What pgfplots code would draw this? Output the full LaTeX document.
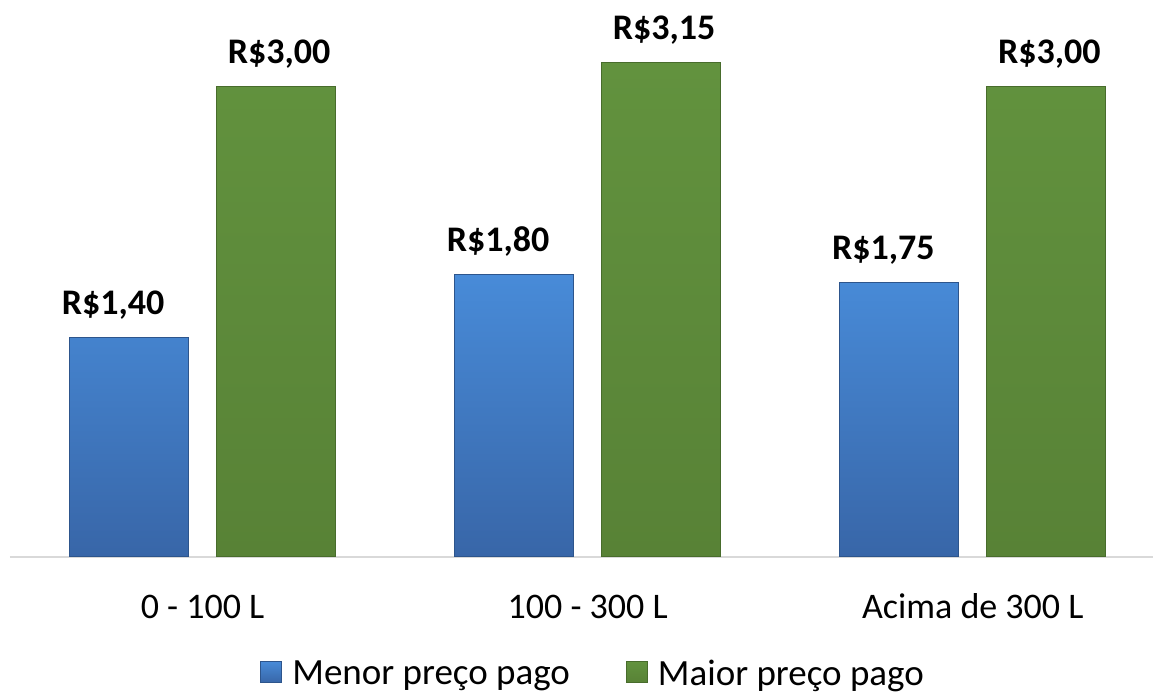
\documentclass[border=0pt]{standalone}
\usepackage{pgfplots}
\pgfplotsset{compat=1.18}
\usepackage{fontspec}
\setmainfont{Carlito}
\definecolor{bluetop}{RGB}{72,139,216}
\definecolor{bluebot}{RGB}{56,102,168}
\definecolor{blueedge}{RGB}{45,85,140}
\definecolor{greentop}{RGB}{98,146,62}
\definecolor{greenbot}{RGB}{88,130,54}
\definecolor{greenedge}{RGB}{72,108,44}
\definecolor{axisgray}{RGB}{217,217,217}
\begin{document}
\begin{tikzpicture}
\useasboundingbox (0,0) rectangle (576.5pt,346pt);
\begin{axis}[
  at={(5pt,67.75pt)}, anchor=south west,
  scale only axis,
  width=571.5pt, height=278.25pt,
  ybar=14pt, bar width=59.5pt,
  xmin=-0.5, xmax=2.468,
  ymin=0, ymax=3.55,
  axis y line=none,
  axis x line*=bottom,
  x axis line style={axisgray, line width=1pt, -},
  xtick={0,1,2},
  xticklabels={0 - 100 L, 100 - 300 L, Acima de 300 L},
  major tick length=0pt,
  xticklabel style={anchor=base, yshift=-30.75pt, font=\fontsize{18}{21.6}\selectfont, text=black},
  clip=false,
  point meta=y,
  nodes near coords={R\$\pgfmathprintnumber[use comma, fixed, fixed zerofill, precision=2, assume math mode=true]{\pgfplotspointmeta}},
  every node near coord/.append style={font=\fontsize{18}{21.6}\selectfont\bfseries, anchor=base, yshift=11.5pt, text=black},
  legend columns=2,
  legend style={draw=none, fill=none, at={(axis cs:-0.5,0)}, anchor=base west,
    xshift=122pt, yshift=-59pt,
    font=\fontsize{18.5}{22}\selectfont,
    /tikz/every even column/.append style={column sep=26pt}},
]
\addplot[top color=bluetop, bottom color=bluebot, draw=blueedge, line width=0.5pt,
  every node near coord/.append style={xshift=-8pt},
  legend image code/.code={\draw[top color=bluetop, bottom color=bluebot, draw=blueedge, line width=0.5pt] (-3pt,-4pt) rectangle (7.5pt,6.5pt); \path (10.5pt,0pt);}]
  coordinates {(0,1.40) (1,1.80) (2,1.75)};
\addplot[top color=greentop, bottom color=greenbot, draw=greenedge, line width=0.5pt,
  every node near coord/.append style={xshift=1.5pt},
  legend image code/.code={\draw[top color=greentop, bottom color=greenbot, draw=greenedge, line width=0.5pt] (-3pt,-4pt) rectangle (7.5pt,6.5pt); \path (10.5pt,0pt);}]
  coordinates {(0,3.00) (1,3.15) (2,3.00)};
\legend{Menor preço pago, Maior preço pago}
\end{axis}
\end{tikzpicture}
\end{document}
